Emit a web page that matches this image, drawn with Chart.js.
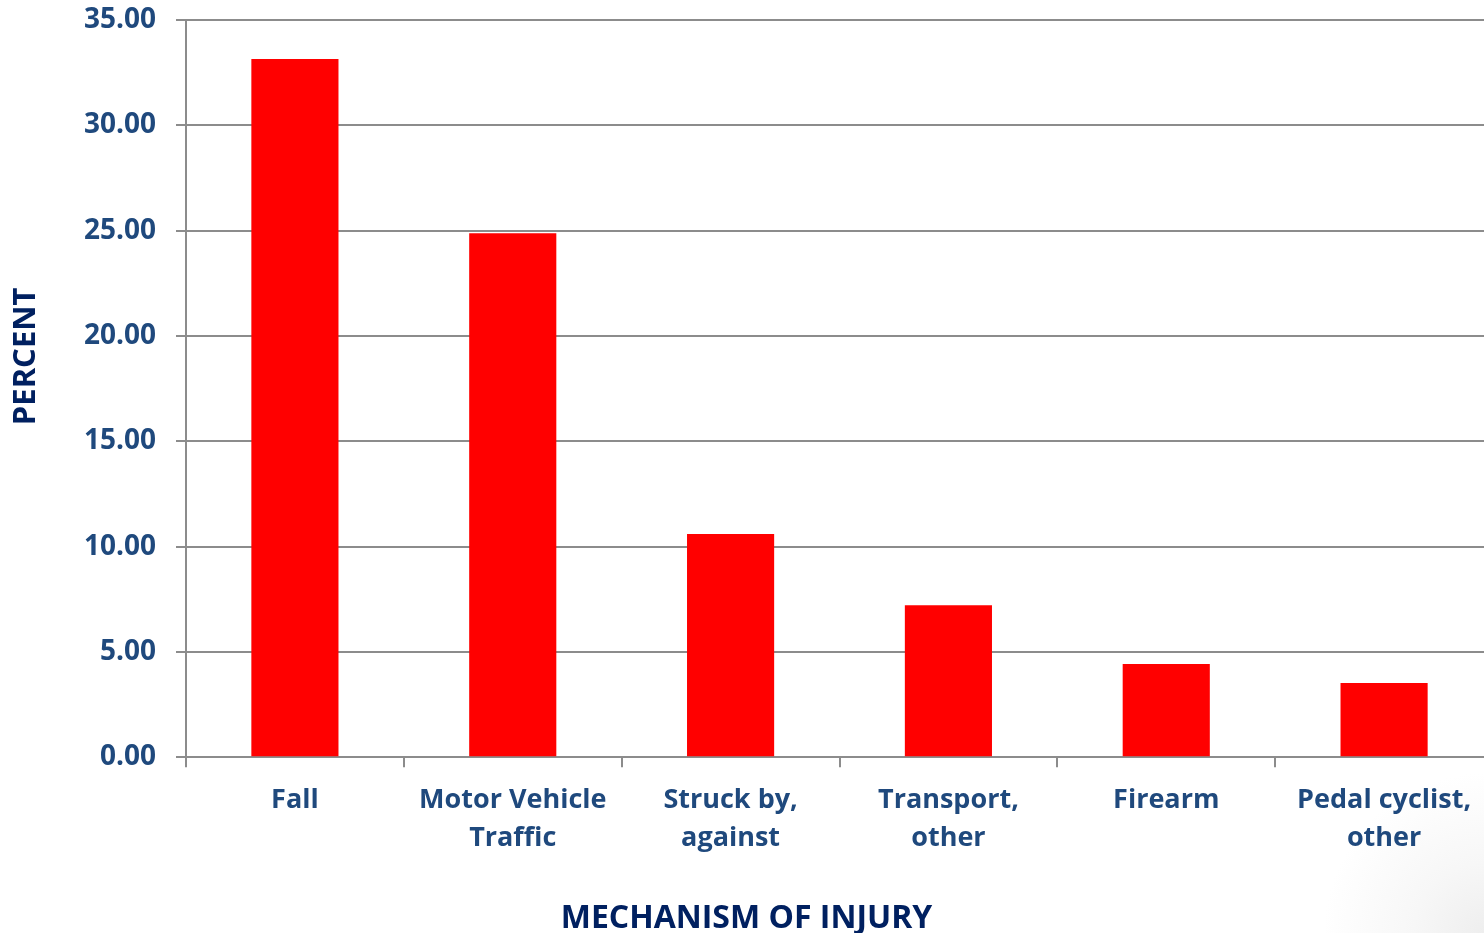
<!DOCTYPE html>
<html>
<head>
<meta charset="utf-8">
<script src="https://cdn.jsdelivr.net/npm/chart.js@4"></script>
<style>
  html, body { margin: 0; padding: 0; overflow: hidden; }
  body { background: #ffffff radial-gradient(circle at 100% 100%, #eeeeee 0px, #f7f7f7 70px, rgba(255,255,255,0) 160px) no-repeat; width: 1484px; height: 933px; }
  #wrap { position: relative; width: 1493px; height: 933px; }
</style>
</head>
<body>
<div id="wrap"><canvas id="c"></canvas></div>
<script>
const categories = [
  'Fall',
  ['Motor Vehicle', 'Traffic'],
  ['Struck by,', 'against'],
  ['Transport,', 'other'],
  'Firearm',
  ['Pedal cyclist,', 'other']
];
const percentValues = [33.15, 24.88, 10.60, 7.22, 4.42, 3.52];
const yTickMin = 0, yTickMax = 35, yTickStep = 5;

const FONT = '"Open Sans", Lato, sans-serif';
const gridColor = '#8c8c8c';

new Chart(document.getElementById('c'), {
  type: 'bar',
  data: {
    labels: categories,
    datasets: [{
      data: percentValues,
      backgroundColor: '#ff0000',
      borderWidth: 0,
      barPercentage: 0.4,
      categoryPercentage: 1.0
    }]
  },
  options: {
    responsive: true,
    maintainAspectRatio: false,
    animation: false,
    layout: { padding: { top: 20, right: 0, bottom: 0, left: 0 } },
    plugins: {
      legend: { display: false },
      tooltip: { enabled: false },
      title: { display: true, position: 'bottom', text: 'MECHANISM OF INJURY', color: '#002060', font: { family: FONT, size: 32, weight: 'bold', lineHeight: 0.9 }, padding: { top: 0, bottom: 0 } }
    },
    scales: {
      x: {
        grid: { display: true, drawOnChartArea: false, drawTicks: true, tickLength: 10, color: gridColor, lineWidth: 2, offset: true },
        border: { display: true, color: gridColor, width: 2 },
        ticks: { color: '#1F497D', font: { family: FONT, size: 27, weight: 'bold', lineHeight: 1.42 }, padding: 14, maxRotation: 0, autoSkip: false },
        afterFit: (s) => { s.height = 147; }
      },
      y: {
        min: yTickMin, max: yTickMax,
        grid: { color: gridColor, lineWidth: 2, tickLength: 10, drawTicks: true },
        border: { display: true, color: gridColor, width: 2 },
        ticks: { stepSize: yTickStep, color: '#1F497D', font: { family: FONT, size: 28, weight: 'bold' }, padding: 20, callback: (v) => Number(v).toFixed(2) },
        title: { display: true, text: '        PERCENT', color: '#002060', font: { family: FONT, size: 31, weight: 'bold' }, padding: { top: 8, bottom: 0 } },
        afterFit: (s) => { s.width = 186; s.paddingTop = 0; s.paddingBottom = 0; }
      }
    }
  }
});
</script>
</body>
</html>
